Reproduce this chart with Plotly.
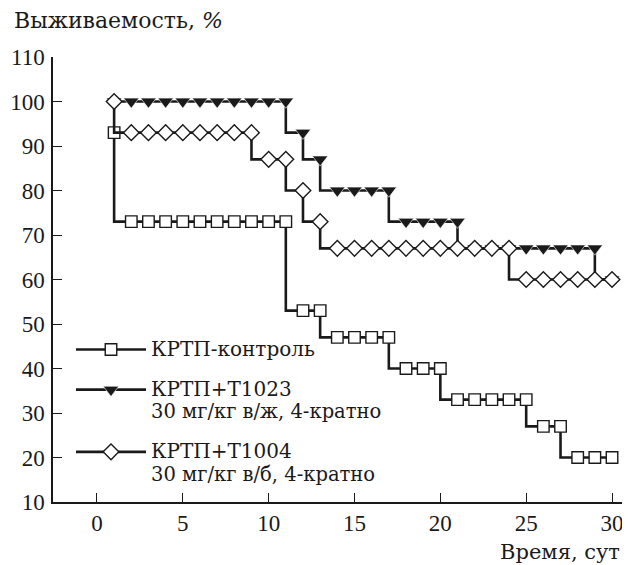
import plotly.graph_objects as go

days = list(range(1, 31))
control = [93] + [73]*10 + [53]*2 + [47]*4 + [40]*3 + [33]*5 + [27]*2 + [20]*3
t1023 = [100]*11 + [93, 87] + [80]*4 + [73]*4 + [67]*8 + [60]
t1004 = [100] + [93]*8 + [87]*2 + [80, 73] + [67]*11 + [60]*6

series_names = ["КРТП-контроль", "КРТП+Т1023", "КРТП+Т1004"]
series_notes = ["", "30 мг/кг в/ж, 4-кратно", "30 мг/кг в/б, 4-кратно"]
y_ticks = list(range(10, 111, 10))
x_ticks = list(range(0, 31, 5))

NUM_FONT = "Liberation Serif"
TXT_FONT = "DejaVu Serif"
INK = "#1a1a1a"


def legend_label(name, note):
    s = f"<span style='font-size:20px'>{name}</span>"
    if note:
        s += f"<br><span style='font-size:19.5px'>{note}</span>"
    return s


# The page body has an 8px margin; the figure is sized to fit the 630x565 window.
W, H = 622, 557
L, R, T, B = 45, 2, 49, 63
PW, PH = W - L - R, H - T - B

fig = go.Figure()
fig.add_trace(go.Scatter(
    x=days, y=control, name=legend_label(series_names[0], series_notes[0]),
    legendrank=1, legendgroup="a", mode="lines+markers",
    line=dict(color=INK, width=2.6, shape="vh"),
    marker=dict(symbol="square", size=11.5, color="white", line=dict(color=INK, width=1.4)),
))
fig.add_trace(go.Scatter(
    x=days, y=t1023, name=legend_label(series_names[1], series_notes[1]),
    legendrank=2, legendgroup="b", mode="lines+markers",
    line=dict(color=INK, width=2.6, shape="vh"),
    marker=dict(symbol="triangle-down", size=13.5, color=INK, line=dict(color="white", width=0.6)),
))
fig.add_trace(go.Scatter(
    x=days, y=t1004, name=legend_label(series_names[2], series_notes[2]),
    legendrank=3, legendgroup="c", mode="lines+markers",
    line=dict(color=INK, width=2.6, shape="vh"),
    marker=dict(symbol="diamond", size=12, color="white", line=dict(color=INK, width=1.4)),
))

fig.update_layout(
    width=W, height=H,
    margin=dict(l=L, r=R, t=T, b=B, pad=0),
    paper_bgcolor="white", plot_bgcolor="white",
    font=dict(family=NUM_FONT, size=23, color=INK),
    showlegend=True,
    legend=dict(
        x=18/PW, y=(PH - (332 - 57)) / PH, xanchor="left", yanchor="top",
        bgcolor="rgba(0,0,0,0)", itemwidth=70, valign="top",
        font=dict(family=TXT_FONT, size=17, color=INK),
        tracegroupgap=15, traceorder="grouped",
    ),
    xaxis=dict(
        range=[-2.56, 30.93], tickvals=x_ticks, ticks="inside", ticklen=9,
        tickwidth=1.3, tickcolor=INK, showline=True, linecolor=INK, linewidth=1.5,
        showgrid=False, zeroline=False, tickfont=dict(family=NUM_FONT, size=23),
        ticklabelstandoff=0,
    ),
    yaxis=dict(
        range=[10, 110], tickvals=y_ticks, ticks="inside", ticklen=9,
        tickwidth=1.3, tickcolor=INK, showline=True, linecolor=INK, linewidth=1.5,
        showgrid=False, zeroline=False, tickfont=dict(family=NUM_FONT, size=23),
        ticklabelstandoff=2,
    ),
    annotations=[
        dict(text="Выживаемость, <i>%</i>", xref="paper", yref="paper",
             x=(4 - L) / PW, y=1 + (T - 13) / PH, xanchor="left", yanchor="middle",
             showarrow=False, font=dict(family=TXT_FONT, size=22, color=INK)),
        dict(text="Время, сут", xref="paper", yref="paper",
             x=1 - 6 / PW, y=-(544 - 494) / PH, xanchor="right", yanchor="middle",
             showarrow=False, font=dict(family=TXT_FONT, size=21, color=INK)),
    ],
)

fig.write_html("out.html")
